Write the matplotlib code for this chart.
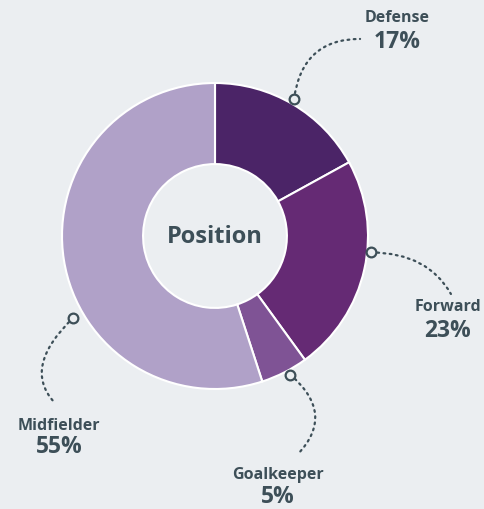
import numpy as np
import matplotlib.pyplot as plt
from matplotlib.path import Path
from matplotlib.patches import PathPatch

# data
positions = ['Defense', 'Forward', 'Goalkeeper', 'Midfielder']
shares = [17, 23, 5, 55]
colors = ['#4b2467', '#652a74', '#7f5395', '#b0a1c8']

bg = '#ebeef1'
txt = '#3d4f58'

# label layout (data units, pie radius = 1)
marker_ang = [60, -6, -61.5, 210]
marker_r = [1.033, 1.026, 1.032, 1.07]
ctrl_pts = [(0.569, 1.288), (1.392, -0.111), (0.791, -1.163), (-1.261, -0.856)]
end_pts = [(0.948, 1.288), (1.542, -0.379), (0.542, -1.425), (-1.052, -1.085)]
name_pos = [(1.19, 1.431), (1.523, -0.458), (0.412, -1.555), (-1.02, -1.235)]
pct_pos = [(1.19, 1.275), (1.523, -0.614), (0.412, -1.70), (-1.02, -1.373)]

fig = plt.figure(figsize=(4.85, 5.10), dpi=100, facecolor=bg)
ax = fig.add_axes([0, 0, 1, 1])
ax.set_facecolor(bg)

ax.pie(shares, colors=colors, startangle=90, counterclock=False,
       radius=1.0,
       wedgeprops=dict(width=0.53, edgecolor='white', linewidth=1.5))

ax.text(0, 0, 'Position', ha='center', va='center', fontsize=17,
        fontweight='bold', color=txt, family='Open Sans')

for i, name in enumerate(positions):
    a = np.deg2rad(marker_ang[i])
    mx, my = marker_r[i] * np.cos(a), marker_r[i] * np.sin(a)
    path = Path([(mx, my), ctrl_pts[i], end_pts[i]],
                [Path.MOVETO, Path.CURVE3, Path.CURVE3])
    ax.add_patch(PathPatch(path, fill=False, edgecolor=txt, lw=1.6,
                           linestyle=(0, (0.8, 2.0)), capstyle='round'))
    ax.plot(mx, my, 'o', ms=7, mfc=bg, mec=txt, mew=1.6, zorder=5)
    ax.text(*name_pos[i], name, ha='center', va='center', fontsize=11.5,
            fontweight='bold', color=txt, family='Open Sans')
    ax.text(*pct_pos[i], f'{shares[i]}%', ha='center', va='center',
            fontsize=16.5, fontweight='bold', color=txt, family='Open Sans')

ax.set_xlim(-215 / 153, 270 / 153)
ax.set_ylim(-273 / 153, 237 / 153)
ax.set_aspect('auto')
ax.axis('off')

fig.savefig('out.png', dpi=100, facecolor=bg)
